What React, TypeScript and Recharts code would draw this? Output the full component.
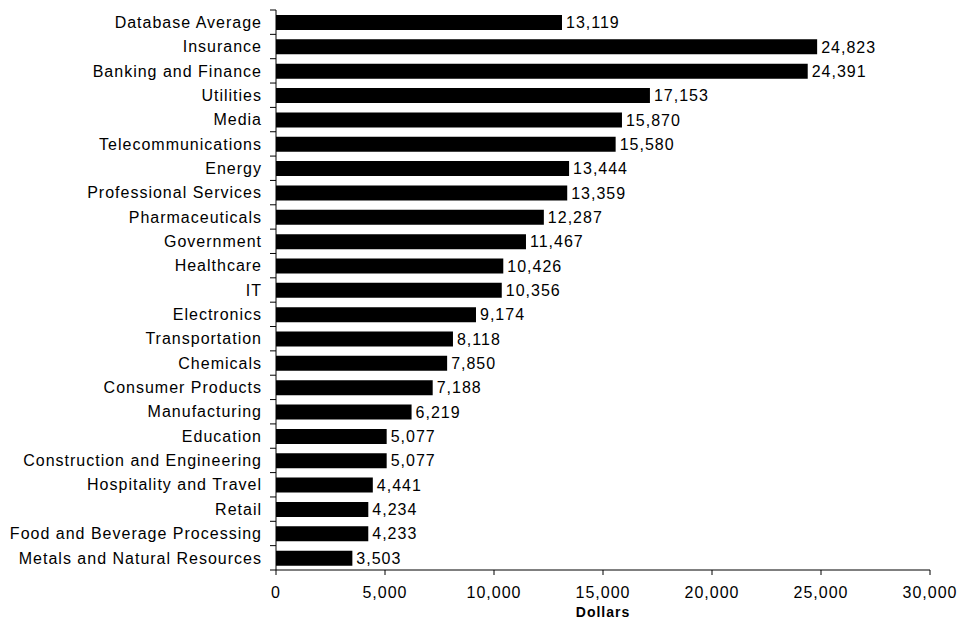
import React from 'react'
import { BarChart, Bar, XAxis, YAxis, LabelList } from 'recharts'

const industries = [
  'Database Average',
  'Insurance',
  'Banking and Finance',
  'Utilities',
  'Media',
  'Telecommunications',
  'Energy',
  'Professional Services',
  'Pharmaceuticals',
  'Government',
  'Healthcare',
  'IT',
  'Electronics',
  'Transportation',
  'Chemicals',
  'Consumer Products',
  'Manufacturing',
  'Education',
  'Construction and Engineering',
  'Hospitality and Travel',
  'Retail',
  'Food and Beverage Processing',
  'Metals and Natural Resources',
]

const dollars = [
  13119, 24823, 24391, 17153, 15870, 15580, 13444, 13359, 12287, 11467, 10426, 10356,
  9174, 8118, 7850, 7188, 6219, 5077, 5077, 4441, 4234, 4233, 3503,
]

const xTicks = [0, 5000, 10000, 15000, 20000, 25000, 30000]

const data = industries.map((name, i) => ({ name, value: dollars[i] }))

const fmt = (v: number) => Number(v).toLocaleString('en-US')

const W = 961
const H = 629
const margin = { top: 10, right: 31, left: 0, bottom: 0 }
const xAxisH = 59
const tickSize = 6
const tickGap = 8
// row height, so the y tick marks can sit between categories like the original
const band = (H - margin.top - margin.bottom - xAxisH) / industries.length

const CatTick = (props: any) => {
  const { x, y, payload, index } = props
  const ax = x + tickSize + tickGap
  const last = index === industries.length - 1
  return (
    <g>
      <line x1={ax - tickSize} x2={ax} y1={y - band / 2} y2={y - band / 2} stroke="#000" />
      {last && <line x1={ax - tickSize} x2={ax} y1={y + band / 2} y2={y + band / 2} stroke="#000" />}
      <text x={x} y={y} dy="0.355em" textAnchor="end" fill="#000" fontSize={16}>
        {payload.value}
      </text>
    </g>
  )
}

const App = () => {
  return (
    <div
      style={{
        position: 'absolute',
        left: 0,
        top: 0,
        fontFamily: '"Liberation Sans", Arial, sans-serif',
        letterSpacing: '1px',
        background: '#fff',
      }}
    >
      <BarChart width={W} height={H} layout="vertical" data={data} margin={margin}>
        <YAxis
          type="category"
          dataKey="name"
          width={276}
          interval={0}
          tickLine={false}
          tickSize={tickSize}
          tickMargin={tickGap}
          axisLine={{ stroke: '#000' }}
          tick={<CatTick />}
        />
        <XAxis
          type="number"
          domain={[0, 30000]}
          ticks={xTicks}
          tickFormatter={fmt}
          height={xAxisH}
          tickSize={5}
          tickMargin={12}
          axisLine={{ stroke: '#000' }}
          tickLine={{ stroke: '#000' }}
          tick={{ fill: '#000', fontSize: 16 }}
          label={{
            value: 'Dollars',
            position: 'insideBottom',
            offset: 12,
            fill: '#000',
            fontSize: 14,
            fontWeight: 'bold',
          }}
        />
        <Bar dataKey="value" fill="#000" barSize={15} isAnimationActive={false}>
          <LabelList dataKey="value" position="right" offset={4} formatter={fmt} fill="#000" fontSize={16} />
        </Bar>
      </BarChart>
    </div>
  )
}

export default App
